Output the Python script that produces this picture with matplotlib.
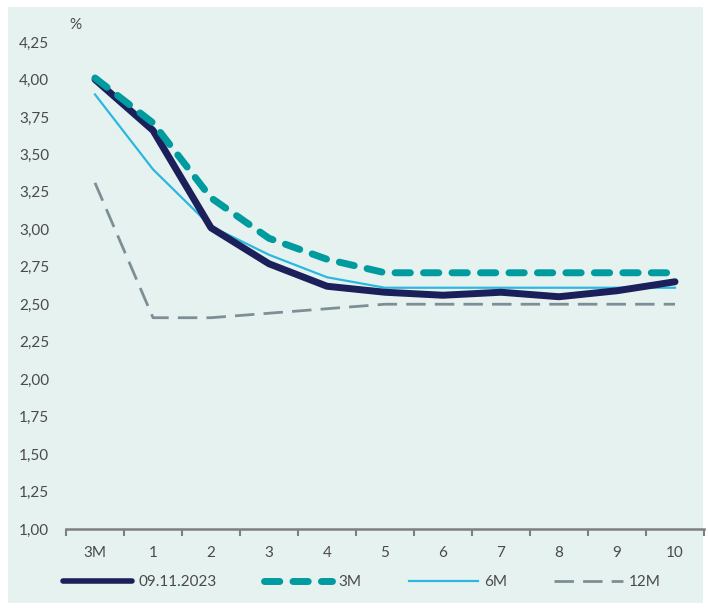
import matplotlib.pyplot as plt
from matplotlib.ticker import FixedLocator, FuncFormatter

plt.rcParams['font.family'] = ['Lato', 'DejaVu Sans']

# Datos de la curva
categorias = ['3M', '1', '2', '3', '4', '5', '6', '7', '8', '9', '10']
fecha = [4.00, 3.66, 3.01, 2.77, 2.62, 2.58, 2.56, 2.58, 2.55, 2.59, 2.65]
m3 = [4.01, 3.71, 3.21, 2.94, 2.80, 2.71, 2.71, 2.71, 2.71, 2.71, 2.71]
m6 = [3.90, 3.40, 3.02, 2.83, 2.68, 2.61, 2.61, 2.61, 2.61, 2.61, 2.61]
m12 = [3.31, 2.41, 2.41, 2.44, 2.47, 2.50, 2.50, 2.50, 2.50, 2.50, 2.50]
y_ticks = [1.00, 1.25, 1.50, 1.75, 2.00, 2.25, 2.50, 2.75, 3.00, 3.25, 3.50, 3.75, 4.00, 4.25]

bg = '#E6F2F0'
texto = '#4A4A4A'

fig = plt.figure(figsize=(7.08, 6.08), dpi=100)
fig.patch.set_facecolor('white')

# Fondo de color
ax_bg = fig.add_axes([8 / 708, 5 / 608, 695 / 708, 596 / 608], zorder=-10)
ax_bg.set_facecolor(bg)
ax_bg.set_xticks([])
ax_bg.set_yticks([])
for s in ax_bg.spines.values():
    s.set_visible(False)

ax = fig.add_axes([66 / 708, 1 - 529 / 608, 638 / 708, 487 / 608])
ax.set_facecolor('none')

x = list(range(len(categorias)))
ax.plot(x, m12, color='#7D8F96', lw=2, dashes=(7, 3.3), label='12M', zorder=2)
ax.plot(x, m6, color='#2BB8E0', lw=1.6, label='6M', zorder=3)
ax.plot(x, fecha, color='#1B1F5A', lw=5, solid_capstyle='round', solid_joinstyle='round',
        label='09.11.2023', zorder=4)
ax.plot(x, m3, color='#009B9E', lw=5, dashes=(2.2, 1.9), dash_capstyle='round',
        label='3M', zorder=5)

ax.set_xlim(-0.5, len(categorias) - 0.5)
ax.set_ylim(1.0, 4.25)

ax.set_xticks(x)
ax.set_xticklabels(categorias)
ax.xaxis.set_minor_locator(FixedLocator([i - 0.5 for i in range(len(categorias) + 1)]))
ax.tick_params(axis='x', which='major', length=0, pad=12, labelsize=11, labelcolor=texto)
ax.tick_params(axis='x', which='minor', length=5, width=1.5, color='#7F7F7F')

ax.set_yticks(y_ticks)
ax.yaxis.set_major_formatter(FuncFormatter(lambda v, p: f"{v:.2f}".replace('.', ',')))
ax.tick_params(axis='y', length=0, pad=12, labelsize=11, labelcolor=texto)

for s in ['top', 'right', 'left']:
    ax.spines[s].set_visible(False)
ax.spines['bottom'].set_color('#7F7F7F')
ax.spines['bottom'].set_linewidth(1.8)

fig.text(75 / 708, 1 - 25 / 608, '%', ha='center', va='center', fontsize=11, color=texto)

handles, labels = ax.get_legend_handles_labels()
orden = [2, 3, 1, 0]
leg = fig.legend([handles[i] for i in orden], [labels[i] for i in orden],
                 loc='center', bbox_to_anchor=(362 / 708, 1 - 582 / 608), ncol=4, frameon=False,
                 handlelength=4.5, handletextpad=0.4, columnspacing=3.1, fontsize=11)
for t in leg.get_texts():
    t.set_color(texto)
leg.legend_handles[0].set_linewidth(4)

plt.savefig('out.png', dpi=100, facecolor='white')
